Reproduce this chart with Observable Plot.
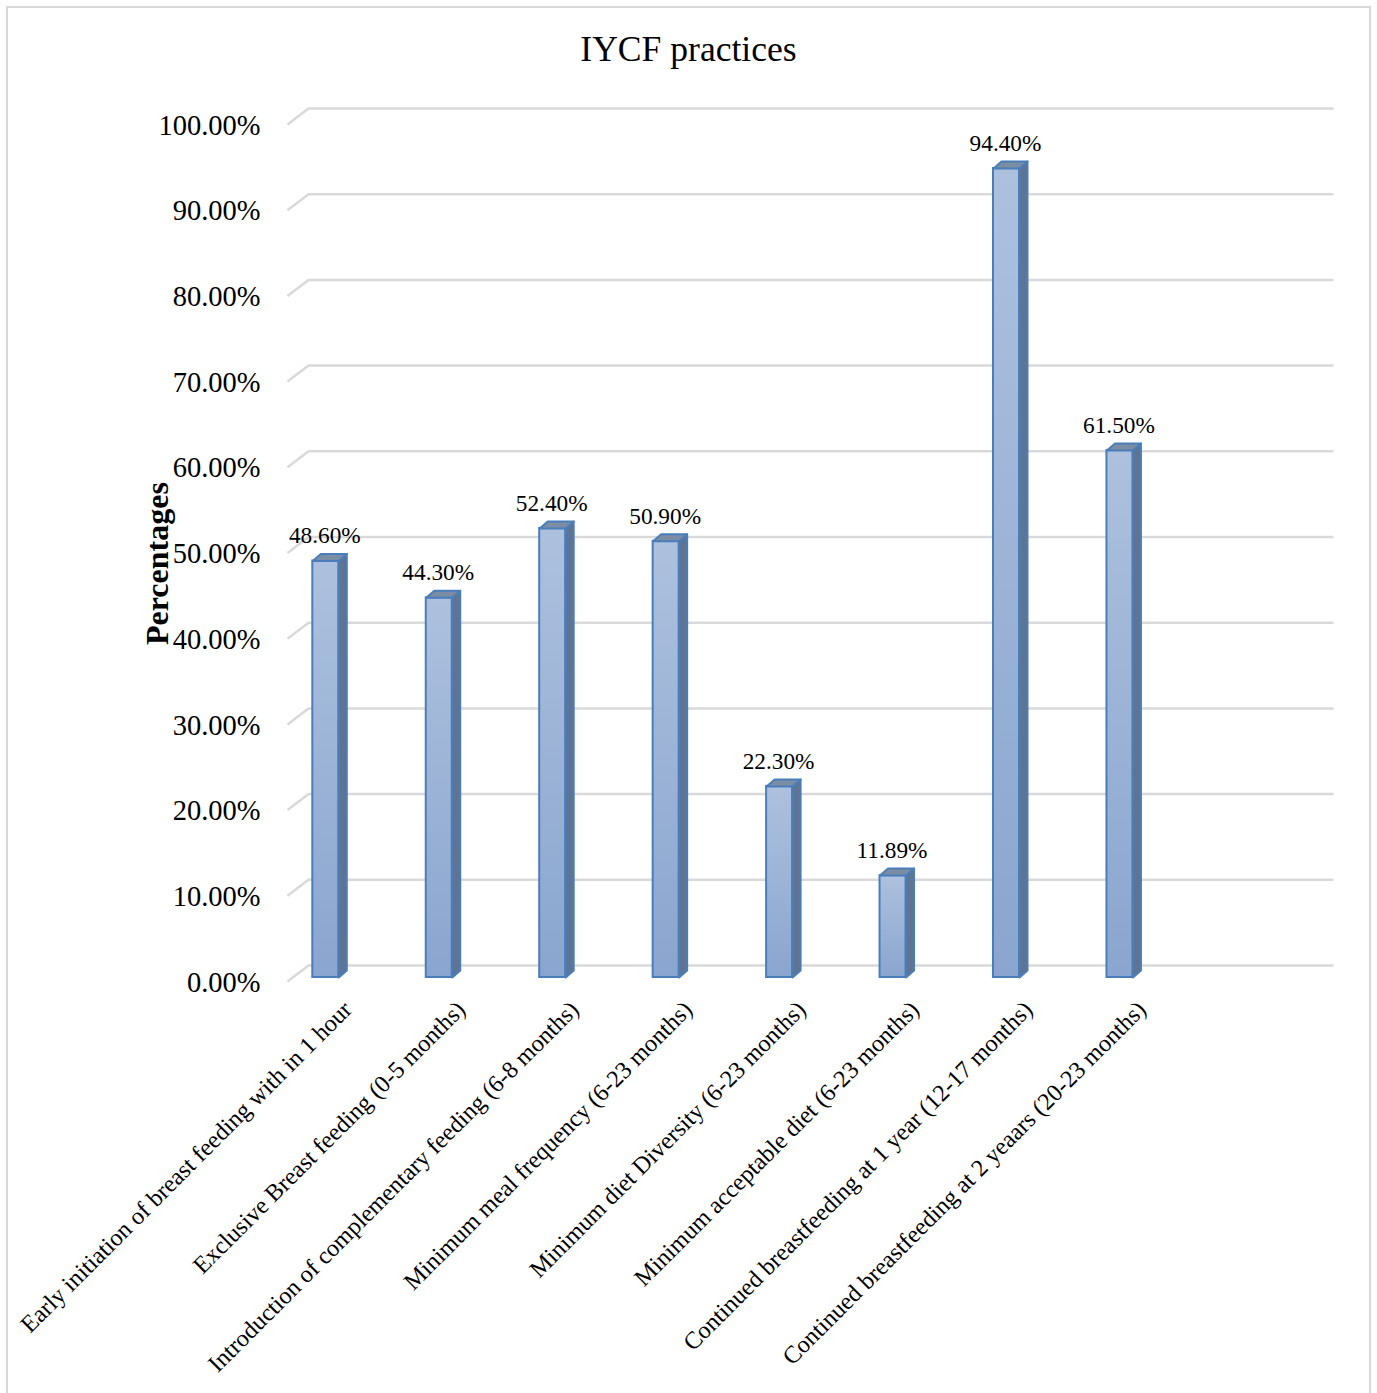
<!DOCTYPE html>
<html><head><meta charset="utf-8">
<script src="https://cdn.jsdelivr.net/npm/d3@7"></script>
<script src="https://cdn.jsdelivr.net/npm/@observablehq/plot@0.6"></script>
<style>
body{margin:0;background:#fff;font-family:"Liberation Serif","Times New Roman",serif;}
#frame{position:absolute;left:6px;top:6px;width:1361px;height:1420px;border:2px solid #d9d9d9;border-bottom:none;box-sizing:content-box;}
#title{position:absolute;left:0;top:32px;width:1377px;text-align:center;font-size:35.6px;line-height:35px;color:#000;}
#chart{position:absolute;left:0;top:80px;}
</style></head><body>
<div id="frame"></div>
<div id="title">IYCF practices</div>
<div id="chart"></div>
<script>
// ---- data ----
const categories = [
  "Early initiation of breast feeding with in 1 hour",
  "Exclusive Breast feeding (0-5 months)",
  "Introduction of complementary feeding (6-8 months)",
  "Minimum meal frequency (6-23 months)",
  "Minimum diet Diversity (6-23 months)",
  "Minimum acceptable diet (6-23 months)",
  "Continued breastfeeding at 1 year (12-17 months)",
  "Continued breastfeeding at 2 yeaars (20-23 months)"
];
const values = [0.486, 0.443, 0.524, 0.509, 0.223, 0.1189, 0.944, 0.615];
const valueLabels = ["48.60%", "44.30%", "52.40%", "50.90%", "22.30%", "11.89%", "94.40%", "61.50%"];
const yTicks = [0, 0.1, 0.2, 0.3, 0.4, 0.5, 0.6, 0.7, 0.8, 0.9, 1.0];
const yTickLabels = ["0.00%", "10.00%", "20.00%", "30.00%", "40.00%", "50.00%", "60.00%", "70.00%", "80.00%", "90.00%", "100.00%"];
const axisTitle = "Percentages";

// ---- geometry (styles) ----
const W = 1377, H = 1313;
const slotPx = 113.45;
const xDomain = [0, 9], xRange = [287, 287 + 9 * slotPx];
const yDomain = [0, 1], yRange = [897, 40];
const pxX = (xRange[1] - xRange[0]) / (xDomain[1] - xDomain[0]);
const pxY = (yRange[0] - yRange[1]) / (yDomain[1] - yDomain[0]);
const toDX = p => p / pxX, toDY = p => p / pxY;

const barOffset = toDX(25.3), barW = toDX(26), barDX = toDX(8), barDY = toDY(7);
const left = i => i + barOffset;
const right = i => left(i) + barW;

// side and top faces of the 3D bars as polygons
const sides = values.flatMap((v, i) => [
  {b: i, x: right(i), y: 0}, {b: i, x: right(i) + barDX, y: barDY},
  {b: i, x: right(i) + barDX, y: v + barDY}, {b: i, x: right(i), y: v}, {b: i, x: right(i), y: 0}
]);
const tops = values.flatMap((v, i) => [
  {b: i, x: left(i), y: v}, {b: i, x: right(i), y: v},
  {b: i, x: right(i) + barDX, y: v + barDY}, {b: i, x: left(i) + barDX, y: v + barDY}, {b: i, x: left(i), y: v}
]);
// gridlines: front diagonal to back wall, then along the back wall
const gridEnd = toDX(1333 - 287);
const grid = yTicks.flatMap((v, k) => [
  {k, x: 0, y: v - toDY(4)}, {k, x: toDX(21), y: v + toDY(12)}, {k, x: gridEnd, y: v + toDY(12)}
]);

const stroke = "#4a7ebb";
const serif = "'Liberation Serif','Times New Roman',serif";

const svg = Plot.plot({
  width: W, height: H,
  marginLeft: 287, marginRight: 65, marginTop: 40, marginBottom: H - 897,
  x: {domain: xDomain, range: xRange, axis: null},
  y: {domain: yDomain, range: yRange, axis: null},
  style: {fontFamily: serif, background: "transparent", overflow: "visible", color: "#000"},
  marks: [
    Plot.line(grid, {x: "x", y: "y", z: "k", stroke: "#d9d9d9", strokeWidth: 2.5, strokeLinecap: "butt", strokeLinejoin: "miter"}),
    Plot.rect(values, {x1: (d, i) => left(i), x2: (d, i) => right(i), y1: 0, y2: d => d, fill: "url(#barGrad)", stroke, strokeWidth: 2}),
    Plot.line(sides, {x: "x", y: "y", z: "b", fill: "#5f7493", stroke, strokeWidth: 2}),
    Plot.line(tops, {x: "x", y: "y", z: "b", fill: "#7b8ca5", stroke, strokeWidth: 2}),
    Plot.text(yTicks, {x: 0, y: d => d, text: (d, i) => yTickLabels[i], textAnchor: "end", dx: -27, dy: 5, fontSize: 28.5}),
    Plot.text(values, {x: (d, i) => left(i) + barW / 2, y: d => d, text: (d, i) => valueLabels[i], dy: -25, dx: -1, fontSize: 23.3}),
    Plot.text(categories, {x: (d, i) => left(i) + barW / 2, y: 0, text: d => d, rotate: -45, textAnchor: "end", dx: 22, dy: 28, fontSize: 24.2}),
    Plot.text([axisTitle], {text: d => d, frameAnchor: "left", dx: -130, dy: 96, rotate: -90, fontWeight: "bold", fontSize: 32})
  ]
});
const defs = d3.select(svg).insert("defs", ":first-child");
const lg = defs.append("linearGradient").attr("id", "barGrad").attr("x1", 0).attr("y1", 0).attr("x2", 0).attr("y2", 1);
lg.append("stop").attr("offset", "0%").attr("stop-color", "#adc1de");
lg.append("stop").attr("offset", "100%").attr("stop-color", "#8aa5cf");
document.getElementById("chart").appendChild(svg);
</script>
</body></html>
